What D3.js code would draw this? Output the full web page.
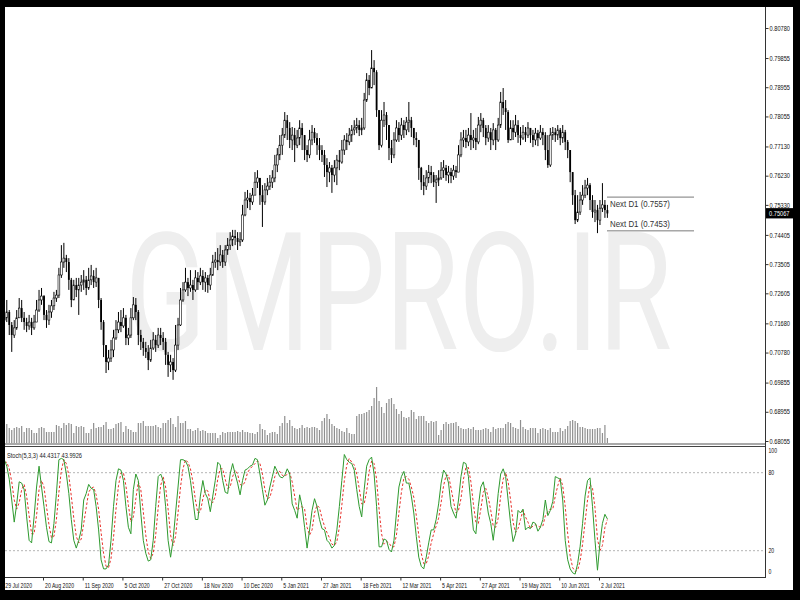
<!DOCTYPE html>
<html><head><meta charset="utf-8">
<script src="https://cdn.jsdelivr.net/npm/d3@7"></script>
<style>html,body{margin:0;padding:0;background:#000;overflow:hidden}</style>
</head><body>
<script>
// ---- data ----
const opens=[.7178,
.7185,.7203,.7163,.7132,.7154,.7185,.7215,.7185,.7172,
.7160,.7172,.7154,.7172,.7209,.7240,.7252,.7194,.7178,.7203,
.7222,.7246,.7255,.7317,.7357,.7369,.7357,.7302,.7240,.7286,
.7271,.7286,.7295,.7302,.7277,.7302,.7314,.7295,.7308,.7240,
.7172,.7101,.7049,.7061,.7086,.7123,.7148,.7172,.7160,.7185,
.7123,.7132,.7185,.7225,.7203,.7132,.7111,.7092,.7080,.7055,
.7092,.7117,.7101,.7132,.7123,.7111,.7071,.7040,.7049,.7024,
.7101,.7163,.7240,.7271,.7295,.7277,.7286,.7271,.7308,.7295,
.7314,.7295,.7308,.7286,.7317,.7357,.7363,.7357,.7379,.7357,
.7394,.7409,.7425,.7437,.7431,.7419,.7425,.7502,.7548,.7554,
.7542,.7563,.7603,.7616,.7563,.7542,.7579,.7591,.7603,.7616,
.7656,.7687,.7717,.7748,.7794,.7770,.7733,.7748,.7717,.7739,
.7770,.7748,.7702,.7687,.7733,.7757,.7739,.7717,.7702,.7687,
.7656,.7634,.7647,.7625,.7647,.7671,.7665,.7702,.7733,.7727,
.7748,.7764,.7770,.7779,.7764,.7770,.7856,.7918,.7893,.7955,
.7942,.7825,.7717,.7794,.7810,.7779,.7708,.7687,.7733,.7770,
.7748,.7779,.7764,.7788,.7794,.7770,.7739,.7733,.7647,.7603,
.7591,.7616,.7634,.7625,.7603,.7610,.7616,.7640,.7647,.7625,
.7634,.7622,.7640,.7634,.7687,.7733,.7739,.7727,.7748,.7733,
.7739,.7727,.7779,.7794,.7770,.7739,.7757,.7733,.7764,.7733,
.7779,.7850,.7831,.7819,.7733,.7770,.7757,.7779,.7748,.7739,
.7757,.7748,.7770,.7748,.7733,.7754,.7739,.7757,.7748,.7702,
.7656,.7748,.7757,.7748,.7764,.7739,.7757,.7727,.7702,.7634,
.7563,.7486,.7511,.7548,.7563,.7585,.7594,.7548,.7511,.7517,
.7486,.7523,.7533,.7517];
const highs=[
.7225,.7240,.7209,.7172,.7178,.7209,.7246,.7240,.7203,.7185,
.7194,.7185,.7194,.7240,.7271,.7277,.7255,.7209,.7225,.7240,
.7265,.7271,.7339,.7409,.7416,.7379,.7369,.7308,.7302,.7308,
.7308,.7317,.7332,.7314,.7339,.7348,.7332,.7339,.7308,.7246,
.7178,.7101,.7086,.7117,.7148,.7178,.7203,.7209,.7215,.7194,
.7154,.7215,.7249,.7246,.7209,.7148,.7123,.7111,.7101,.7117,
.7141,.7132,.7154,.7154,.7141,.7123,.7080,.7071,.7061,.7163,
.7185,.7277,.7295,.7339,.7308,.7332,.7302,.7332,.7326,.7339,
.7332,.7326,.7317,.7339,.7379,.7388,.7400,.7409,.7394,.7409,
.7431,.7449,.7456,.7456,.7449,.7449,.7533,.7573,.7579,.7570,
.7585,.7634,.7640,.7616,.7594,.7600,.7616,.7625,.7640,.7687,
.7708,.7748,.7770,.7819,.7810,.7788,.7773,.7770,.7764,.7794,
.7785,.7748,.7717,.7764,.7779,.7770,.7754,.7739,.7717,.7702,
.7677,.7665,.7656,.7671,.7687,.7702,.7733,.7748,.7754,.7770,
.7779,.7794,.7801,.7794,.7801,.7878,.7939,.7933,.8010,.7979,
.7948,.7825,.7825,.7850,.7819,.7779,.7733,.7757,.7794,.7788,
.7801,.7794,.7804,.7850,.7804,.7770,.7757,.7733,.7650,.7625,
.7640,.7656,.7653,.7634,.7625,.7640,.7665,.7671,.7656,.7653,
.7647,.7656,.7653,.7717,.7757,.7764,.7764,.7770,.7816,.7764,
.7770,.7804,.7816,.7801,.7779,.7779,.7770,.7785,.7770,.7801,
.7881,.7893,.7856,.7825,.7794,.7794,.7810,.7794,.7773,.7779,
.7773,.7788,.7770,.7764,.7770,.7764,.7779,.7770,.7757,.7748,
.7770,.7773,.7770,.7779,.7770,.7779,.7764,.7733,.7702,.7634,
.7579,.7563,.7573,.7594,.7610,.7616,.7600,.7563,.7548,.7533,
.7548,.7600,.7548,.7533];
const lows=[
.7148,.7172,.7132,.7080,.7123,.7148,.7185,.7172,.7148,.7141,
.7148,.7132,.7148,.7172,.7203,.7225,.7178,.7154,.7163,.7185,
.7209,.7234,.7246,.7308,.7339,.7326,.7271,.7218,.7240,.7249,
.7194,.7265,.7271,.7255,.7271,.7286,.7277,.7280,.7215,.7148,
.7064,.7015,.7024,.7049,.7064,.7117,.7138,.7141,.7154,.7101,
.7101,.7123,.7178,.7178,.7101,.7086,.7068,.7061,.7024,.7049,
.7086,.7080,.7092,.7101,.7086,.7040,.7003,.7018,.6994,.7018,
.7086,.7160,.7234,.7265,.7252,.7265,.7240,.7265,.7271,.7286,
.7271,.7265,.7262,.7271,.7314,.7339,.7332,.7345,.7339,.7345,
.7379,.7394,.7406,.7409,.7394,.7406,.7419,.7498,.7523,.7517,
.7533,.7563,.7585,.7533,.7465,.7533,.7563,.7579,.7585,.7603,
.7634,.7671,.7687,.7739,.7733,.7708,.7702,.7665,.7708,.7717,
.7702,.7671,.7665,.7677,.7717,.7724,.7687,.7671,.7665,.7619,
.7588,.7603,.7570,.7603,.7594,.7640,.7660,.7687,.7702,.7717,
.7727,.7748,.7754,.7745,.7748,.7764,.7850,.7871,.7893,.7902,
.7804,.7702,.7710,.7773,.7733,.7671,.7662,.7677,.7727,.7727,
.7733,.7739,.7748,.7757,.7742,.7717,.7711,.7610,.7579,.7563,
.7579,.7600,.7600,.7588,.7539,.7591,.7610,.7616,.7607,.7600,
.7600,.7610,.7616,.7634,.7680,.7711,.7708,.7714,.7702,.7708,
.7702,.7720,.7757,.7742,.7717,.7727,.7702,.7717,.7702,.7727,
.7770,.7810,.7764,.7724,.7733,.7733,.7742,.7724,.7717,.7733,
.7727,.7739,.7724,.7711,.7717,.7714,.7733,.7717,.7671,.7647,
.7650,.7733,.7727,.7733,.7717,.7724,.7702,.7677,.7603,.7533,
.7474,.7480,.7502,.7533,.7554,.7563,.7517,.7493,.7480,.7446,
.7471,.7511,.7493,.7493];
const closes=[
.7185,.7203,.7163,.7132,.7154,.7185,.7215,.7185,.7172,.7160,
.7172,.7154,.7172,.7209,.7240,.7252,.7194,.7178,.7203,.7222,
.7246,.7255,.7317,.7357,.7369,.7357,.7302,.7240,.7286,.7271,
.7286,.7295,.7302,.7277,.7302,.7314,.7295,.7308,.7240,.7172,
.7101,.7049,.7061,.7086,.7123,.7148,.7172,.7160,.7185,.7123,
.7132,.7185,.7225,.7203,.7132,.7111,.7092,.7080,.7055,.7092,
.7117,.7101,.7132,.7123,.7111,.7071,.7040,.7049,.7024,.7101,
.7163,.7240,.7271,.7295,.7277,.7286,.7271,.7308,.7295,.7314,
.7295,.7308,.7286,.7317,.7357,.7363,.7357,.7379,.7357,.7394,
.7409,.7425,.7437,.7431,.7419,.7425,.7502,.7548,.7554,.7542,
.7563,.7603,.7616,.7563,.7542,.7579,.7591,.7603,.7616,.7656,
.7687,.7717,.7748,.7794,.7770,.7733,.7748,.7717,.7739,.7770,
.7748,.7702,.7687,.7733,.7757,.7739,.7717,.7702,.7687,.7656,
.7634,.7647,.7625,.7647,.7671,.7665,.7702,.7733,.7727,.7748,
.7764,.7770,.7779,.7764,.7770,.7856,.7918,.7893,.7955,.7942,
.7825,.7717,.7794,.7810,.7779,.7708,.7687,.7733,.7770,.7748,
.7779,.7764,.7788,.7794,.7770,.7739,.7733,.7647,.7603,.7591,
.7616,.7634,.7625,.7603,.7610,.7616,.7640,.7647,.7625,.7634,
.7622,.7640,.7634,.7687,.7733,.7739,.7727,.7748,.7733,.7739,
.7727,.7779,.7794,.7770,.7739,.7757,.7733,.7764,.7733,.7779,
.7850,.7831,.7819,.7733,.7770,.7757,.7779,.7748,.7739,.7757,
.7748,.7770,.7748,.7733,.7754,.7739,.7757,.7748,.7702,.7656,
.7748,.7757,.7748,.7764,.7739,.7757,.7727,.7702,.7634,.7563,
.7486,.7511,.7548,.7563,.7585,.7594,.7548,.7511,.7517,.7486,
.7523,.7533,.7517,.75067];
// tick volume, thousands of ticks
const volumes=[
64,76,60,52,60,64,60,68,44,60, 60,52,40,40,60,64,60,44,44,44,
44,72,68,60,80,72,80,76,40,68, 64,68,64,40,40,56,80,60,64,64,
72,84,56,56,60,76,80,84,44,68, 56,52,44,44,80,80,88,68,68,68,
68,72,64,60,80,80,92,100,76,64, 108,80,80,88,56,56,48,52,60,48,
52,48,40,40,40,40,20,32,44,40, 44,44,44,44,48,44,52,44,44,40,
40,36,44,76,56,52,32,40,44,44, 36,68,80,108,80,92,68,60,56,60,
72,60,64,60,64,64,60,52,88,100, 116,96,76,68,60,56,48,44,60,40,
36,36,108,116,116,120,124,132,148,180, 224,168,144,120,160,176,180,156,136,116,
128,104,100,104,132,124,96,108,108,108, 88,80,88,84,88,32,52,76,84,76,
80,80,84,68,60,56,56,60,56,64, 52,52,52,56,60,56,44,64,56,60,
60,60,76,84,80,64,60,56,92,64, 56,52,60,60,60,40,56,60,56,52,
60,44,44,44,60,48,56,68,88,92, 88,80,64,64,60,56,56,56,56,60,
60,40,72,20];
const stochK=[
90,85,75,59,42,56,73,72,67,46, 28,26,46,69,85,69,54,38,27,26,
41,64,90,91,90,79,64,44,28,22, 28,36,59,64,71,68,67,54,36,13,
6,6,9,28,54,74,83,82,74,54, 38,33,67,79,74,49,28,18,12,13,
28,54,77,79,74,54,28,15,28,49, 69,90,90,89,85,74,59,44,44,62,
74,64,60,50,62,74,88,86,74,65, 64,79,87,79,72,63,74,82,83,85,
86,91,90,79,67,55,59,69,77,85, 81,77,76,78,83,79,56,51,45,63,
54,38,22,36,51,60,54,44,37,36, 28,26,22,24,36,54,74,94,90,88,
87,82,67,54,46,67,85,90,92,79, 54,23,23,29,28,21,19,28,49,69,
77,81,72,72,62,49,31,15,8,6, 15,26,36,36,44,56,72,82,79,72,
54,49,45,59,77,88,87,77,56,36, 33,54,69,73,62,49,41,28,44,64,
79,83,77,59,41,27,33,51,49,52, 36,38,37,42,41,35,38,44,59,47,
51,58,77,76,75,59,28,13,6,3, 2,10,23,41,62,74,76,54,28,5,
26,41,48,44.4317];
const stochD=[
88,88,83,73,59,52,57,67,71,62, 47,33,33,47,67,74,69,54,40,30,
31,44,65,82,90,87,78,62,45,31, 26,29,41,53,65,68,69,63,52,34,
18,8,7,14,30,52,70,80,80,70, 55,42,46,60,73,67,50,32,19,14,
18,32,53,70,77,69,52,32,24,31, 49,69,83,90,88,83,73,59,49,50,
60,67,66,58,57,62,75,83,83,75, 68,69,77,82,79,71,70,73,80,83,
85,87,89,87,79,67,60,61,68,77, 81,81,78,77,79,80,73,62,51,53,
54,52,38,32,36,49,55,53,45,39, 34,30,25,24,27,38,55,74,86,91,
88,86,79,68,56,56,66,81,89,87, 75,52,33,25,27,26,23,23,32,49,
65,76,77,75,69,61,47,32,18,10, 10,16,26,33,39,45,57,70,78,78,
68,58,49,51,60,75,84,84,73,56, 42,41,52,65,68,61,51,39,38,45,
62,75,80,73,59,42,34,37,44,51, 46,42,37,39,40,39,38,39,47,50,
52,52,62,70,76,70,54,33,16,7, 4,5,12,25,42,59,71,68,53,29,
20,24,38,43.9926];
const dateLabels=["29 Jul 2020","20 Aug 2020","11 Sep 2020","5 Oct 2020","27 Oct 2020","18 Nov 2020","10 Dec 2020","5 Jan 2021","27 Jan 2021","18 Feb 2021","12 Mar 2021","5 Apr 2021","27 Apr 2021","19 May 2021","10 Jun 2021","2 Jul 2021"];
const dateIndex=[0,16,32,48,64,80,96,112,128,144,160,176,192,208,224,240];
const priceTicks=[0.80780,0.79855,0.78955,0.78055,0.77130,0.76230,0.75330,0.74405,0.73505,0.72605,0.71680,0.70780,0.69855,0.68955,0.68055];
const stochLevels=[0,20,80,100];
const dottedLevels=[20,80];
const nextD1=[0.7557,0.7453];
const lastPrice=0.75067;
const stochTitle="Stoch(5,3,3) 44.4317 43.9926";
const watermark="GMPRO.IR";

// ---- drawing ----
const FONT='"Liberation Sans", Arial, sans-serif';
const svg=d3.select("body").append("svg").attr("width",800).attr("height",600);
svg.append("rect").attr("width",800).attr("height",600).attr("fill","#000");
svg.append("rect").attr("x",5).attr("y",7).attr("width",788).attr("height",583).attr("fill","#fff");

const n=closes.length;
const x=d3.scaleLinear().domain([0,n-1]).range([4.3,607.4]);
const y=d3.scaleLinear().domain([0.68055,0.80780]).range([441,28]);
const yv=d3.scaleLinear().domain([0,240]).range([443,383]);
const ys=d3.scaleLinear().domain([0,100]).range([576.7,446.7]);

const defs=svg.append("defs");
defs.append("clipPath").attr("id","cm").append("rect").attr("x",5).attr("y",7).attr("width",760).attr("height",436.5);
defs.append("clipPath").attr("id","cs").append("rect").attr("x",5).attr("y",447).attr("width",760).attr("height",130);

// watermark
svg.append("text").attr("x",125).attr("y",350)
  .attr("font-family","Roboto, Arial, sans-serif").attr("font-size",166)
  .attr("fill","#eeeeee").attr("textLength",547).attr("lengthAdjust","spacingAndGlyphs")
  .text(watermark);

const main=svg.append("g").attr("clip-path","url(#cm)");
// volumes
main.selectAll("rect.vol").data(volumes).join("rect").attr("class","vol")
  .attr("x",(d,i)=>x(i)-0.6).attr("width",1.2)
  .attr("y",d=>yv(d)).attr("height",d=>yv(0)-yv(d)).attr("fill","#8f8f8f");
// candles
const idx=d3.range(n);
main.selectAll("line.wick").data(idx).join("line").attr("class","wick")
  .attr("x1",i=>x(i)).attr("x2",i=>x(i)).attr("y1",i=>y(highs[i])).attr("y2",i=>y(lows[i]))
  .attr("stroke","#000").attr("stroke-width",1);
main.selectAll("rect.body").data(idx).join("rect").attr("class","body")
  .attr("x",i=>x(i)-0.9).attr("width",1.8)
  .attr("y",i=>y(Math.max(opens[i],closes[i])))
  .attr("height",i=>Math.max(0.8,Math.abs(y(opens[i])-y(closes[i]))))
  .attr("fill",i=>closes[i]>=opens[i]?"#fff":"#000")
  .attr("stroke","#000").attr("stroke-width",i=>closes[i]>=opens[i]?0.6:0);

// Next D1 levels
nextD1.forEach((v,k)=>{
  svg.append("line").attr("x1",607).attr("x2",694).attr("y1",y(v)).attr("y2",y(v))
    .attr("stroke","#7a7a7a").attr("stroke-width",1);
  svg.append("text").attr("x",610).attr("y",k===0?y(v)+9.5:y(v)-4)
    .attr("font-family",FONT).attr("font-size",8.6).attr("fill","#333")
    .attr("textLength",60).attr("lengthAdjust","spacingAndGlyphs")
    .text("Next D1 ("+v.toFixed(4)+")");
});

// panel borders
svg.append("line").attr("x1",5).attr("x2",765.5).attr("y1",444).attr("y2",444).attr("stroke","#555").attr("stroke-width",1.2);
svg.append("line").attr("x1",5).attr("x2",765.5).attr("y1",446.5).attr("y2",446.5).attr("stroke","#444").attr("stroke-width",1);
svg.append("line").attr("x1",5).attr("x2",765.5).attr("y1",577.5).attr("y2",577.5).attr("stroke","#333").attr("stroke-width",1);
svg.append("line").attr("x1",765.5).attr("x2",765.5).attr("y1",7).attr("y2",578).attr("stroke","#333").attr("stroke-width",1);

// stochastic
const st=svg.append("g").attr("clip-path","url(#cs)");
dottedLevels.forEach(v=>{
  st.append("line").attr("x1",5).attr("x2",765).attr("y1",ys(v)).attr("y2",ys(v))
    .attr("stroke","#b4b4b4").attr("stroke-dasharray","2,2").attr("stroke-width",1);
});
const lineGen=d3.line().x((d,i)=>x(i)).y(d=>ys(d));
st.append("path").datum(stochD).attr("d",lineGen).attr("fill","none")
  .attr("stroke","#e8302a").attr("stroke-width",1).attr("stroke-dasharray","2.5,2");
st.append("path").datum(stochK).attr("d",lineGen).attr("fill","none")
  .attr("stroke","#2f9a2f").attr("stroke-width",1);
svg.append("text").attr("x",7).attr("y",457.5).attr("font-family",FONT).attr("font-size",6.8)
  .attr("fill","#222").attr("textLength",75).attr("lengthAdjust","spacingAndGlyphs").text(stochTitle);

// price axis
const pa=svg.append("g").attr("transform","translate(765.5,0)")
  .call(d3.axisRight(y).tickValues(priceTicks).tickSize(3).tickFormat(d=>d.toFixed(5)));
pa.select(".domain").remove();
pa.selectAll(".tick line").attr("stroke","#333");
pa.selectAll("text").attr("x",4).attr("font-family",FONT).attr("font-size",6.6).attr("fill","#111")
  .attr("textLength",20.5).attr("lengthAdjust","spacingAndGlyphs");

// stochastic axis
const sa=svg.append("g").attr("transform","translate(765.5,0)")
  .call(d3.axisRight(ys).tickValues(stochLevels).tickSize(0).tickFormat(d=>String(d)));
sa.select(".domain").remove();
sa.selectAll("text").attr("x",3).attr("font-family",FONT).attr("font-size",6.6).attr("fill","#111")
  .attr("dy",d=>d===100?"0.95em":(d===0?"-0.55em":"0.32em"));
sa.selectAll("text").each(function(){const w=this.getComputedTextLength();d3.select(this).attr("textLength",w*0.78).attr("lengthAdjust","spacingAndGlyphs");});

// last price label
const lp=svg.append("g").attr("transform",`translate(766,${y(lastPrice)})`);
lp.append("rect").attr("x",0).attr("y",-5.3).attr("width",27).attr("height",10.3).attr("fill","#000");
lp.append("text").attr("x",3).attr("y",0).attr("dy","0.34em").attr("font-family",FONT).attr("font-size",6.6)
  .attr("fill","#fff").attr("textLength",20.5).attr("lengthAdjust","spacingAndGlyphs").text(lastPrice.toFixed(5));

// date axis
const da=svg.append("g").attr("transform","translate(-1,577.5)")
  .call(d3.axisBottom(x).tickValues(dateIndex).tickSize(3).tickFormat((d,i)=>dateLabels[i]));
da.select(".domain").remove();
da.selectAll(".tick line").attr("stroke","#333");
da.selectAll("text").attr("text-anchor","start").attr("x",1.5).attr("y",6).attr("dy","0.71em")
  .attr("font-family",FONT).attr("font-size",6.8).attr("fill","#111");
da.selectAll("text").each(function(){const w=this.getComputedTextLength();d3.select(this).attr("textLength",w*0.76).attr("lengthAdjust","spacingAndGlyphs");});

// black frame on top
[[0,0,800,7],[0,0,5,600],[793,0,7,600],[0,590,800,10]].forEach(r=>{
  svg.append("rect").attr("x",r[0]).attr("y",r[1]).attr("width",r[2]).attr("height",r[3]).attr("fill","#000");
});
</script>
</body></html>
